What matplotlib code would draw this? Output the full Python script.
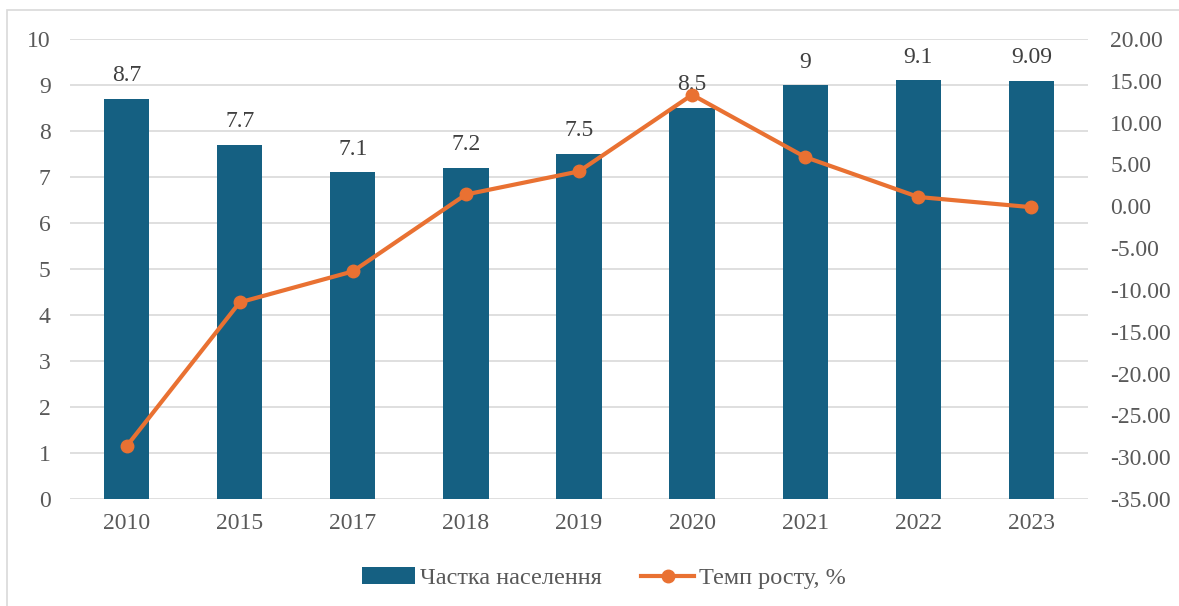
import matplotlib
matplotlib.use("Agg")
import matplotlib.pyplot as plt
from matplotlib.patches import Rectangle

years = ["2010", "2015", "2017", "2018", "2019", "2020", "2021", "2022", "2023"]
share = [8.7, 7.7, 7.1, 7.2, 7.5, 8.5, 9.0, 9.1, 9.09]
share_labels = ["8.7", "7.7", "7.1", "7.2", "7.5", "8.5", "9", "9.1", "9.09"]
growth = [-28.7, -11.49, -7.79, 1.41, 4.17, 13.33, 5.88, 1.11, -0.11]

bar_color = "#156082"
line_color = "#E97132"
text_color = "#595959"
grid_color = "#D9D9D9"

plt.rcParams['font.family'] = ['Liberation Serif', 'DejaVu Serif']
fs = 17

fig = plt.figure(figsize=(11.79, 6.06), dpi=100)
fig.patches.append(Rectangle((7/1179, -0.1), 1.2, 1 - 10/606 + 0.1, transform=fig.transFigure,
                             fill=False, edgecolor="#D9D9D9", linewidth=1.2, zorder=0))
ax = fig.add_axes([70/1179, 1 - 499/606, (1088 - 70)/1179, (499 - 39)/606])
x = list(range(len(years)))
bars = ax.bar(x, share, width=0.4, color=bar_color, zorder=2, label="Частка населення")
ax.set_ylim(0, 10)
ax.set_xlim(-0.5, len(years) - 0.5)
ax.set_yticks(range(0, 11))
ax.set_xticks(x)
ax.set_xticklabels(years)
ax.yaxis.grid(True, color=grid_color, linewidth=1.2, zorder=0)
ax.set_axisbelow(True)
for s in ax.spines.values():
    s.set_visible(False)
ax.tick_params(axis='both', length=0, labelsize=fs, colors=text_color)
ax.tick_params(axis='x', pad=10)
ax.tick_params(axis='y', pad=14)
for xi, v, lab in zip(x, share, share_labels):
    ax.annotate(lab, (xi, v), xytext=(0, 9), textcoords="offset points",
                ha="center", va="bottom", fontsize=fs, color="#404040", zorder=5)

ax2 = ax.twinx()
ax2.plot(x, growth, color=line_color, linewidth=3, marker="o", markersize=9,
         label="Темп росту, %", zorder=4)
ax2.set_ylim(-35, 20)
ax2.set_yticks(range(-35, 21, 5))
ax2.set_yticklabels([f"{v:.2f}" for v in range(-35, 21, 5)])
for s in ax2.spines.values():
    s.set_visible(False)
ax2.tick_params(axis='y', length=0, labelsize=fs, colors=text_color, pad=16)

h1, l1 = ax.get_legend_handles_labels()
h2, l2 = ax2.get_legend_handles_labels()
leg = fig.legend(h1 + h2, l1 + l2, loc="center", bbox_to_anchor=(604/1179, 1 - 578/606),
                 ncol=2, frameon=False, fontsize=17.5, handlelength=2.2, columnspacing=1.6,
                 handletextpad=0.2)
for t in leg.get_texts():
    t.set_color(text_color)

fig.savefig("out.png", dpi=100)
